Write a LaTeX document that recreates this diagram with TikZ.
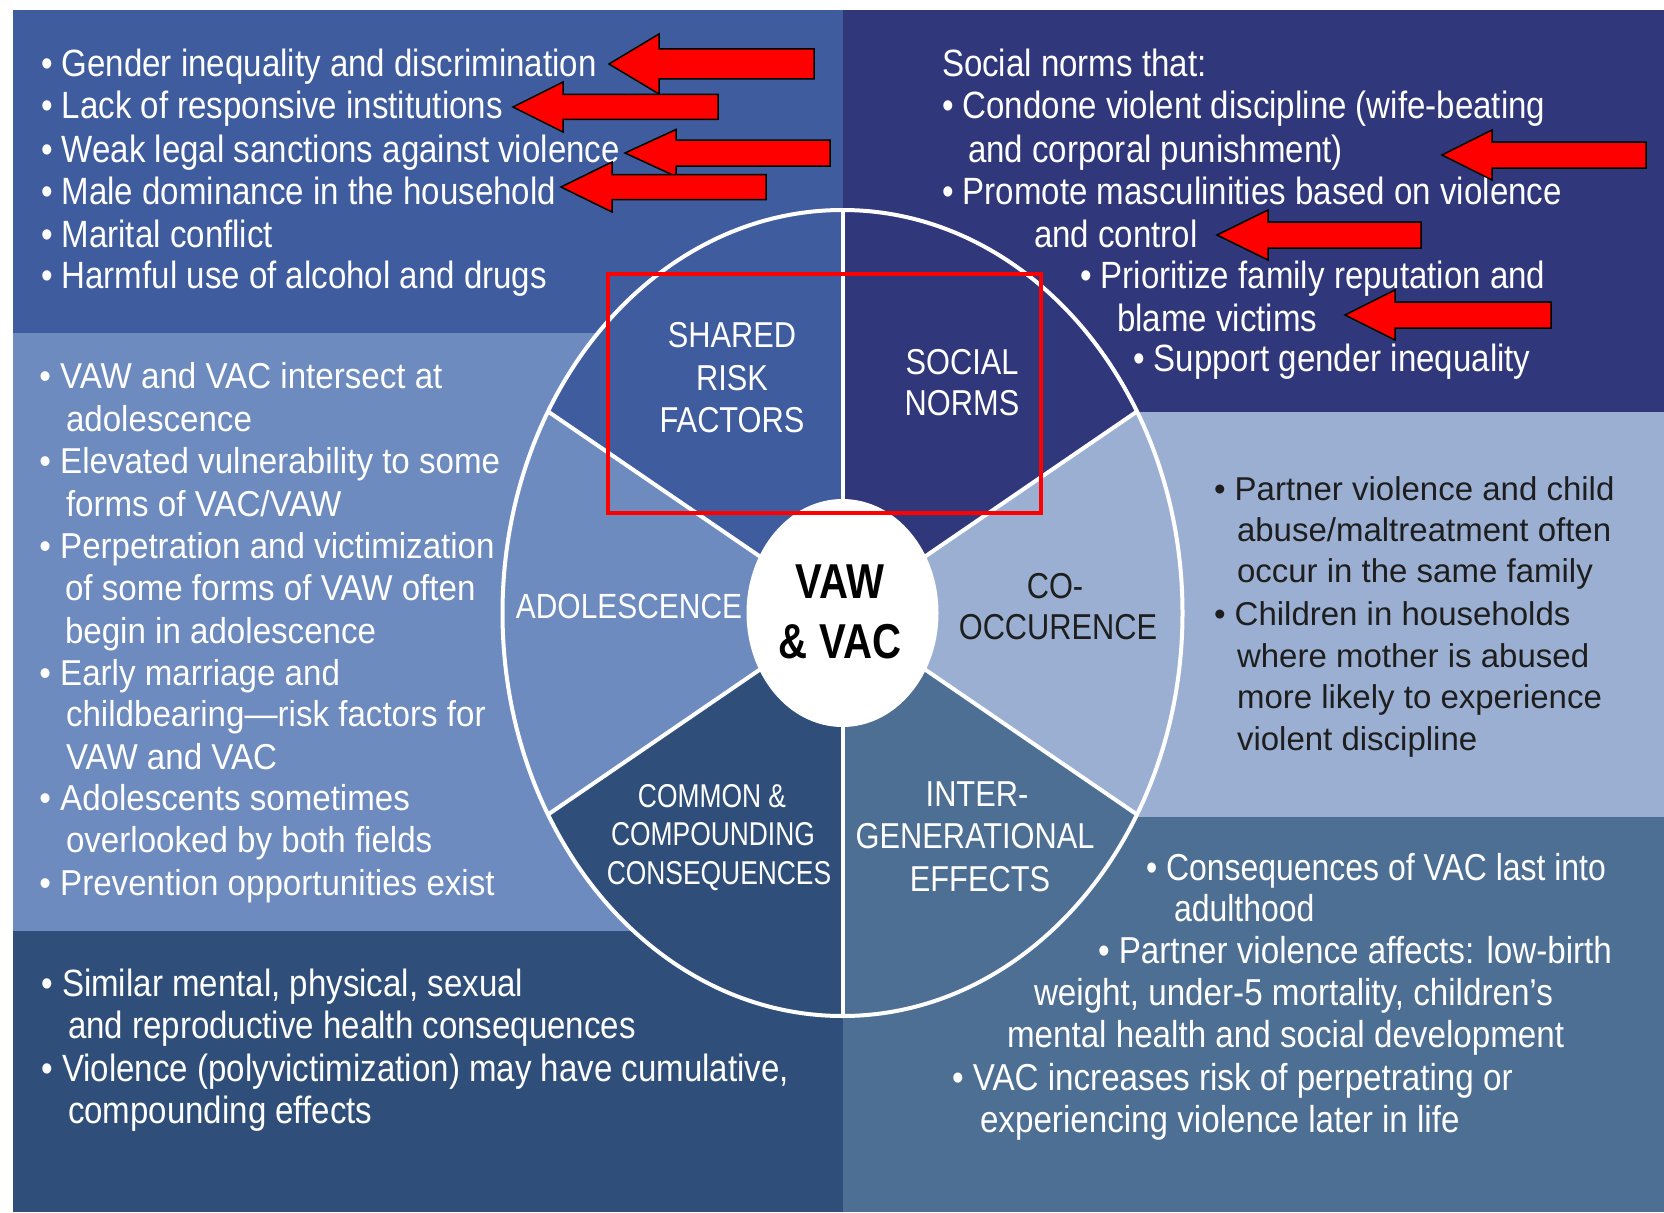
\documentclass[tikz,border=0pt]{standalone}
\usepackage{fontspec}
\setmainfont{Liberation Sans}
\newfontfamily\fA[FakeStretch=0.87]{Liberation Sans}
\newfontfamily\fE[FakeStretch=0.885]{Liberation Sans}
\newfontfamily\fEn[FakeStretch=0.852]{Liberation Sans}
\newfontfamily\fC[FakeStretch=0.92]{Liberation Sans}
\newfontfamily\fD{Liberation Sans}
\newfontfamily\fS[FakeStretch=0.855]{Liberation Sans}
\newfontfamily\fM[FakeStretch=0.8]{Liberation Sans}
\newfontfamily\fV[FakeStretch=0.82]{Liberation Sans}
\definecolor{cTL}{HTML}{3F5C9E}
\definecolor{cTR}{HTML}{30377A}
\definecolor{cML}{HTML}{6D8BBE}
\definecolor{cMR}{HTML}{9AAFD2}
\definecolor{cBL}{HTML}{2F4F7A}
\definecolor{cBR}{HTML}{4E6F94}
\definecolor{darktxt}{HTML}{1E1E1E}
\tikzset{
  txt/.style={inner sep=0pt, outer sep=0pt, anchor=base west, text=white},
  blkA/.style={txt, font=\fA\fontsize{38}{42}\selectfont},
  blkE/.style={txt, font=\fE\fontsize{37.5}{42}\selectfont},
  blkEn/.style={txt, font=\fEn\fontsize{37.5}{42}\selectfont},
  blkC/.style={txt, font=\fC\fontsize{36}{42}\selectfont},
  blkD/.style={txt, text=darktxt, font=\fD\fontsize{33}{41}\selectfont},
  lab/.style={inner sep=0pt, outer sep=0pt, anchor=base, text=white, font=\fS\fontsize{36}{42}\selectfont},
  labsmall/.style={lab, font=\fM\fontsize{33}{38}\selectfont},
  labcenter/.style={lab, text=black, font=\fV\bfseries\fontsize{49}{58}\selectfont},
  redarrowshape/.style={fill=red, draw=black, line width=1.5pt, line join=miter},
  divider/.style={white, line width=4pt},
}
\newcommand\blockarrow[6]{% tip x, y, head base x, end x, head half, shaft half
  \path[redarrowshape] (#1,#2) -- (#3,{#2-#5}) -- (#3,{#2-#6}) -- (#4,{#2-#6})
    -- (#4,{#2+#6}) -- (#3,{#2+#6}) -- (#3,{#2+#5}) -- cycle;}
\begin{document}
\begin{tikzpicture}[x=1pt,y=-1pt]
\useasboundingbox (0,0) rectangle (1664,1212);
\fill[white] (0,0) rectangle (1664,1212);
% panels
\fill[cTL] (13,10) rectangle (843,333);
\fill[cTR] (843,10) rectangle (1664,412);
\fill[cML] (13,333) rectangle (843,931);
\fill[cMR] (843,412) rectangle (1664,817);
\fill[cBL] (13,931) rectangle (843,1212);
\fill[cBR] (843,817) rectangle (1664,1212);
% wheel
\begin{scope}[shift={(842.5,613)}, yscale=-1]
  \fill[cTR] (0,0) -- (30:340 and 403) arc[start angle=30, end angle=90, x radius=340, y radius=403] -- cycle;
  \fill[cTL] (0,0) -- (90:340 and 403) arc[start angle=90, end angle=150, x radius=340, y radius=403] -- cycle;
  \fill[cML] (0,0) -- (150:340 and 403) arc[start angle=150, end angle=210, x radius=340, y radius=403] -- cycle;
  \fill[cBL] (0,0) -- (210:340 and 403) arc[start angle=210, end angle=270, x radius=340, y radius=403] -- cycle;
  \fill[cBR] (0,0) -- (270:340 and 403) arc[start angle=270, end angle=330, x radius=340, y radius=403] -- cycle;
  \fill[cMR] (0,0) -- (-30:340 and 403) arc[start angle=-30, end angle=30, x radius=340, y radius=403] -- cycle;
  \foreach \a in {30,90,150,210,270,330} \draw[divider] (0,0) -- (\a:340 and 403);
  \draw[divider] (0,0) ellipse [x radius=340, y radius=403];
  \fill[white] (0,0) ellipse [x radius=96, y radius=114];
\end{scope}
% sector labels
\node[lab] (sh1) at (732,347) {SHARED};
\node[lab] (sh2) at (732,390) {RISK};
\node[lab] (sh3) at (732,432) {FACTORS};
\node[lab] (sn1) at (962,374) {SOCIAL};
\node[lab] (sn2) at (962,415) {NORMS};
\node[lab, font=\fS\fontsize{35}{42}\selectfont] (ad1) at (629,618) {ADOLESCENCE};
\node[lab, text=darktxt] (co1) at (1055,598) {CO-};
\node[lab, text=darktxt] (co2) at (1058,639) {OCCURENCE};
\node[labsmall] (cc1) at (712,807) {COMMON \&};
\node[labsmall] (cc2) at (713,845) {COMPOUNDING};
\node[labsmall] (cc3) at (719,884) {CONSEQUENCES};
\node[lab] (ig1) at (977,806) {INTER-};
\node[lab] (ig2) at (975,848) {GENERATIONAL};
\node[lab] (ig3) at (980,891) {EFFECTS};
\node[labcenter] (vw1) at (840,598) {VAW};
\node[labcenter] (vw2) at (840,658) {\& VAC};
% block A
\node[blkA] (a1) at (41,77) {• Gender inequality and discrimination};
\node[blkA] (a2) at (41,119) {• Lack of responsive institutions};
\node[blkA] (a3) at (41,162) {• Weak legal sanctions against violence};
\node[blkA] (a4) at (41,204) {• Male dominance in the household};
\node[blkA] (a5) at (41,247) {• Marital conflict};
\node[blkA] (a6) at (41,288) {• Harmful use of alcohol and drugs};
% block B
\node[blkA] (b1) at (942,77) {Social norms that:};
\node[blkA] (b2) at (942,119) {• Condone violent discipline (wife-beating};
\node[blkA] (b3) at (968,162) {and corporal punishment)};
\node[blkA] (b4) at (942,204) {• Promote masculinities based on violence};
\node[blkA] (b5) at (1034,247) {and control};
\node[blkA] (b6) at (1080,288) {• Prioritize family reputation and};
\node[blkA] (b7) at (1117,331) {blame victims};
\node[blkA] (b8) at (1133,371) {• Support gender inequality};
% block C
\node[blkC] (c1) at (39.4,388) {• VAW and VAC intersect at};
\node[blkC] (c2) at (66,431) {adolescence};
\node[blkC] (c3) at (39.4,473) {• Elevated vulnerability to some};
\node[blkC] (c4) at (66,516) {forms of VAC/VAW};
\node[blkC] (c5) at (39.4,558) {• Perpetration and victimization};
\node[blkC] (c6) at (65,600) {of some forms of VAW often};
\node[blkC] (c7) at (65,643) {begin in adolescence};
\node[blkC] (c8) at (39.4,685) {• Early marriage and};
\node[blkC] (c9) at (66,726) {childbearing—risk factors for};
\node[blkC] (c10) at (66,769) {VAW and VAC};
\node[blkC] (c11) at (39.4,810) {• Adolescents sometimes};
\node[blkC] (c12) at (66,852) {overlooked by both fields};
\node[blkC] (c13) at (39.4,895) {• Prevention opportunities exist};
% block D
\node[blkD] (d1) at (1214,500) {• Partner violence and child};
\node[blkD] (d2) at (1237,541) {abuse/maltreatment often};
\node[blkD] (d3) at (1237,582) {occur in the same family};
\node[blkD] (d4) at (1214,625) {• Children in households};
\node[blkD] (d5) at (1237,667) {where mother is abused};
\node[blkD] (d6) at (1237,708) {more likely to experience};
\node[blkD] (d7) at (1237,750) {violent discipline};
% block E
\node[blkEn] (e1) at (1146,880) {• Consequences of VAC last into};
\node[blkEn] (e2) at (1174,921) {adulthood};
\node[blkE] (e3) at (1098,963) {• Partner violence affects: low-birth};
\node[blkE] (e4) at (1034,1005) {weight, under-5 mortality, children’s};
\node[blkE] (e5) at (1007,1047) {mental health and social development};
\node[blkE] (e6) at (952,1090) {• VAC increases risk of perpetrating or};
\node[blkE] (e7) at (980,1132) {experiencing violence later in life};
% block F
\node[blkA] (f1) at (41.3,996) {• Similar mental, physical, sexual};
\node[blkA] (f2) at (68,1038) {and reproductive health consequences};
\node[blkA] (f3) at (41.3,1081) {• Violence (polyvictimization) may have cumulative,};
\node[blkA] (f4) at (68,1123) {compounding effects};
% red highlight box
\draw[red, line width=4pt] (608,274) rectangle (1041,513);
% red arrows
\blockarrow{609}{64}{659}{814}{30}{15}
\blockarrow{513}{107}{563}{718}{25}{12.5}
\blockarrow{625}{153}{676}{830}{23.5}{13}
\blockarrow{561}{187}{612}{766}{25}{12.5}
\blockarrow{1442}{155}{1492}{1646}{25}{13}
\blockarrow{1217}{235}{1268}{1421}{25}{13}
\blockarrow{1345}{315}{1395}{1551}{25}{13}
\end{tikzpicture}
\end{document}
